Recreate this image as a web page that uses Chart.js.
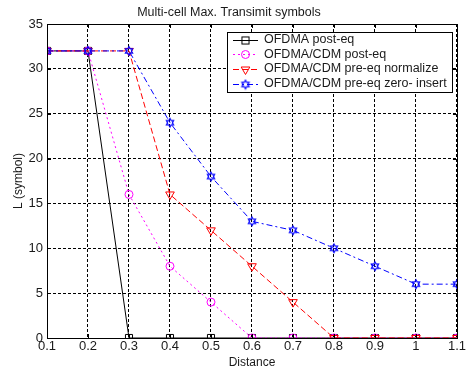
<!DOCTYPE html>
<html><head><meta charset="utf-8">
<script src="https://cdn.jsdelivr.net/npm/chart.js@4.4.1/dist/chart.umd.min.js"></script>
<style>html,body{margin:0;padding:0;background:#fff}#wrap{width:467px;height:371px}</style>
</head><body><div id="wrap"><canvas id="c" width="467" height="371"></canvas></div>
<script>
const chartTitle = 'Multi-cell Max. Transimit symbols';
const xAxisTitle = 'Distance';
const yAxisTitle = 'L (symbol)';
const distances = [0.1, 0.2, 0.3, 0.4, 0.5, 0.6, 0.7, 0.8, 0.9, 1.0, 1.1];
const ofdmaPostEq = [32, 32, 0, 0, 0, 0, 0, 0, 0, 0, 0];
const cdmPostEq = [32, 32, 16, 8, 4, 0, 0, 0, 0, 0, 0];
const cdmPreEqNormalize = [32, 32, 32, 16, 12, 8, 4, 0, 0, 0, 0];
const cdmPreEqZeroInsert = [32, 32, 32, 24, 18, 13, 12, 10, 8, 6, 6];
const seriesLabels = ['OFDMA post-eq', 'OFDMA/CDM post-eq', 'OFDMA/CDM pre-eq normalize', 'OFDMA/CDM pre-eq zero- insert'];
const xTickValues = [0.1, 0.2, 0.3, 0.4, 0.5, 0.6, 0.7, 0.8, 0.9, 1.0, 1.1];
const yTickValues = [0, 5, 10, 15, 20, 25, 30, 35];

const FONT = 'Arial, "Liberation Sans", Helvetica, sans-serif';
const TEXT = '#1a1a1a';

function makeHexagram(color) {
  const cv = document.createElement('canvas');
  cv.width = 12; cv.height = 12;
  const g = cv.getContext('2d');
  const cx = 6, cy = 6, R = 4.2, r = R / Math.sqrt(3);
  g.beginPath();
  for (let i = 0; i < 12; i++) {
    const a = -Math.PI / 2 + i * Math.PI / 6;
    const rr = i % 2 === 0 ? R : r;
    const px = cx + rr * Math.cos(a), py = cy + rr * Math.sin(a);
    if (i === 0) g.moveTo(px, py); else g.lineTo(px, py);
  }
  g.closePath();
  g.strokeStyle = color; g.lineWidth = 1.2; g.stroke();
  return cv;
}
const hexImg = makeHexagram('#0000ff');

const toPts = arr => distances.map((d, i) => ({x: d, y: arr[i]}));

const seriesStyles = [
  {color: '#000000', dash: [], pointStyle: 'rect', radius: 5, rotation: 0},
  {color: '#ff00ff', dash: [2, 3], pointStyle: 'circle', radius: 4, rotation: 0},
  {color: '#ff0000', dash: [6, 3], pointStyle: 'triangle', radius: 5, rotation: 180},
  {color: '#0000ff', dash: [6, 3, 2, 3], pointStyle: hexImg, radius: 5, rotation: 0}
];
const seriesData = [ofdmaPostEq, cdmPostEq, cdmPreEqNormalize, cdmPreEqZeroInsert];

const datasets = seriesData.map((arr, i) => ({
  label: seriesLabels[i],
  data: toPts(arr),
  borderColor: seriesStyles[i].color,
  backgroundColor: 'rgba(0,0,0,0)',
  borderWidth: 1,
  borderDash: seriesStyles[i].dash,
  pointStyle: seriesStyles[i].pointStyle,
  pointRadius: seriesStyles[i].radius,
  pointRotation: seriesStyles[i].rotation,
  pointBorderColor: seriesStyles[i].color,
  pointBackgroundColor: 'rgba(0,0,0,0)',
  pointBorderWidth: 1,
  tension: 0,
  order: 4 - i
}));

function drawMarker(ctx, st, x, y) {
  ctx.save();
  ctx.setLineDash([]);
  ctx.strokeStyle = st.color; ctx.lineWidth = 1;
  if (st.pointStyle === 'rect') {
    const s = st.radius * Math.SQRT1_2;
    ctx.strokeRect(x - s, y - s, 2 * s, 2 * s);
  } else if (st.pointStyle === 'circle') {
    ctx.beginPath(); ctx.arc(x, y, st.radius, 0, Math.PI * 2); ctx.stroke();
  } else if (st.pointStyle === 'triangle') {
    const r = st.radius;
    ctx.beginPath();
    let a = Math.PI;
    ctx.moveTo(x + Math.sin(a) * r, y - Math.cos(a) * r);
    a += 2 * Math.PI / 3; ctx.lineTo(x + Math.sin(a) * r, y - Math.cos(a) * r);
    a += 2 * Math.PI / 3; ctx.lineTo(x + Math.sin(a) * r, y - Math.cos(a) * r);
    ctx.closePath(); ctx.stroke();
  } else {
    ctx.drawImage(st.pointStyle, x - 6, y - 6);
  }
  ctx.restore();
}

const framePlugin = {
  id: 'frameLegend',
  afterDraw(chart) {
    const {ctx, chartArea: a, scales} = chart;
    ctx.save();
    ctx.setLineDash([]);
    ctx.strokeStyle = '#000'; ctx.lineWidth = 1;
    ctx.strokeRect(Math.round(a.left) + 0.5, Math.round(a.top) + 0.5, Math.round(a.right - a.left), Math.round(a.bottom - a.top));
    ctx.beginPath();
    xTickValues.forEach(v => {
      const px = Math.round(scales.x.getPixelForValue(v)) + 0.5;
      ctx.moveTo(px, a.bottom); ctx.lineTo(px, a.bottom - 4);
      ctx.moveTo(px, a.top); ctx.lineTo(px, a.top + 4);
    });
    yTickValues.forEach(v => {
      const py = Math.round(scales.y.getPixelForValue(v)) + 0.5;
      ctx.moveTo(a.left, py); ctx.lineTo(a.left + 4, py);
      ctx.moveTo(a.right, py); ctx.lineTo(a.right - 4, py);
    });
    ctx.stroke();
    const lx = 227.5, ly = 32.5, lw = 225, lh = 60;
    ctx.fillStyle = '#fff';
    ctx.fillRect(lx, ly, lw, lh);
    ctx.strokeRect(lx, ly, lw, lh);
    ctx.font = '12.5px ' + FONT;
    ctx.textBaseline = 'middle';
    ctx.textAlign = 'left';
    seriesLabels.forEach((lab, i) => {
      const y = 39.5 + i * 14.7;
      const st = seriesStyles[i];
      ctx.save();
      ctx.strokeStyle = st.color;
      ctx.setLineDash(st.dash);
      ctx.beginPath(); ctx.moveTo(233, Math.round(y) + 0.5); ctx.lineTo(258, Math.round(y) + 0.5); ctx.stroke();
      ctx.restore();
      drawMarker(ctx, st, 245.5, Math.round(y) + 0.5);
      ctx.fillStyle = TEXT;
      ctx.fillText(lab, 264, y);
    });
    ctx.restore();
  }
};

new Chart(document.getElementById('c'), {
  type: 'line',
  data: {datasets},
  plugins: [framePlugin],
  options: {
    responsive: false,
    animation: false,
    devicePixelRatio: 1,
    layout: {padding: {left: 0, right: 9, top: 0, bottom: 0}},
    plugins: {
      legend: {display: false},
      tooltip: {enabled: false},
      title: {
        display: true, text: chartTitle, color: TEXT,
        font: {family: FONT, size: 12.5, weight: 'normal'},
        padding: {top: 5, bottom: 4}
      }
    },
    scales: {
      x: {
        type: 'linear', min: 0.1, max: 1.1,
        afterFit(s) { s.height = 33; },
        afterBuildTicks(s) { s.ticks = xTickValues.map(v => ({value: v})); },
        ticks: {
          color: TEXT, font: {family: FONT, size: 13}, padding: 1,
          maxRotation: 0, autoSkip: false,
          callback: v => String(Number(v.toFixed(1)))
        },
        grid: {color: '#000', lineWidth: 1, drawTicks: false},
        border: {display: true, color: '#000', dash: [3, 2]},
        title: {display: true, text: xAxisTitle, color: TEXT, font: {family: FONT, size: 12}, padding: {top: 0, bottom: 1}}
      },
      y: {
        type: 'linear', min: 0, max: 35,
        afterFit(s) { s.width = 47; },
        afterBuildTicks(s) { s.ticks = yTickValues.map(v => ({value: v})); },
        ticks: {color: TEXT, font: {family: FONT, size: 13}, padding: 4, autoSkip: false},
        grid: {color: '#000', lineWidth: 1, drawTicks: false},
        border: {display: true, color: '#000', dash: [3, 2]},
        title: {display: true, text: yAxisTitle, color: TEXT, font: {family: FONT, size: 12}, padding: {top: 11, bottom: 0}}
      }
    }
  }
});
</script>
</body></html>
